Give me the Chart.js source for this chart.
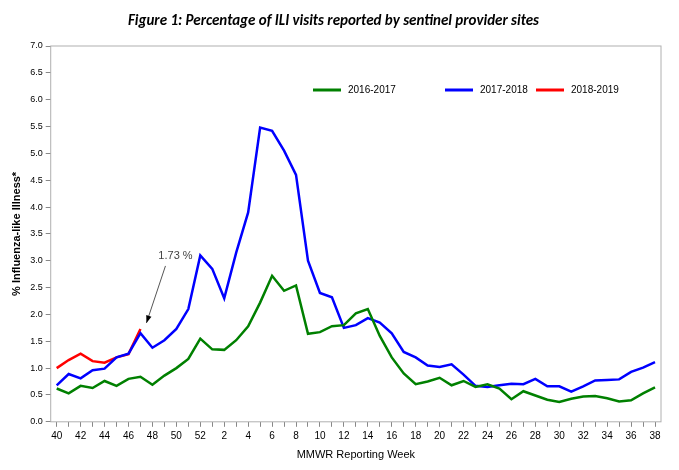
<!DOCTYPE html>
<html>
<head>
<meta charset="utf-8">
<script src="https://cdn.jsdelivr.net/npm/chart.js@4/dist/chart.umd.min.js"></script>
<style>
  body { margin: 0; background: #fff; }
  #wrap { width: 679px; height: 470px; position: relative; }
</style>
</head>
<body>
<div id="wrap"><canvas id="chart"></canvas></div>
<script>
// Semanas MMWR (40..52, 1..38)
const weeks = [40,41,42,43,44,45,46,47,48,49,50,51,52,1,2,3,4,5,6,7,8,9,10,11,12,13,14,15,16,17,18,19,20,21,22,23,24,25,26,27,28,29,30,31,32,33,34,35,36,37,38];

const season1617 = [0.62,0.53,0.67,0.63,0.76,0.67,0.80,0.84,0.69,0.86,1.00,1.17,1.55,1.35,1.34,1.52,1.78,2.22,2.72,2.44,2.54,1.64,1.67,1.78,1.80,2.02,2.10,1.60,1.20,0.90,0.70,0.75,0.82,0.68,0.76,0.65,0.70,0.62,0.42,0.57,0.49,0.41,0.37,0.43,0.47,0.48,0.44,0.38,0.40,0.53,0.64];
const season1718 = [0.68,0.89,0.81,0.96,0.99,1.20,1.27,1.65,1.38,1.52,1.73,2.10,3.10,2.85,2.30,3.15,3.90,5.48,5.42,5.05,4.60,3.00,2.40,2.32,1.75,1.80,1.93,1.85,1.65,1.30,1.20,1.05,1.02,1.07,0.88,0.67,0.65,0.68,0.71,0.70,0.80,0.66,0.66,0.56,0.66,0.77,0.78,0.79,0.93,1.01,1.11];
const season1819 = [1.00,1.15,1.27,1.13,1.10,1.20,1.26,1.73];

const seriesNames = ["2016-2017", "2017-2018", "2018-2019"];
const seriesColors = ["#008000", "#0000ff", "#ff0000"];

// Leyenda dentro del área del gráfico y anotación de la flecha
const extras = {
  id: "extras",
  afterDraw(chart) {
    const ctx = chart.ctx;
    const { left, top, right, bottom } = chart.chartArea;
    // marco
    ctx.save();
    ctx.strokeStyle = "#b0b0b0";
    ctx.lineWidth = 1;
    ctx.strokeRect(left, top, right - left, bottom - top);
    // leyenda
    const lx = [313, 445, 536];
    ctx.font = "10px Arial, 'Liberation Sans', sans-serif";
    ctx.textBaseline = "middle";
    seriesNames.forEach((n, i) => {
      ctx.strokeStyle = seriesColors[i];
      ctx.lineWidth = 3;
      ctx.beginPath();
      ctx.moveTo(lx[i], 90);
      ctx.lineTo(lx[i] + 28, 90);
      ctx.stroke();
      ctx.fillStyle = "#000";
      ctx.fillText(n, lx[i] + 35, 90);
    });
    // anotación 1.73 %
    const xs = chart.scales.x, ys = chart.scales.y;
    const px = xs.getPixelForValue(7), py = ys.getPixelForValue(1.73);
    const x0 = px + 25, y0 = py - 63;
    const x1 = px + 6, y1 = py - 6;
    ctx.strokeStyle = "#555";
    ctx.lineWidth = 1;
    ctx.beginPath();
    ctx.moveTo(x0, y0);
    ctx.lineTo(x1, y1);
    ctx.stroke();
    const ang = Math.atan2(y1 - y0, x1 - x0);
    ctx.fillStyle = "#000";
    ctx.beginPath();
    ctx.moveTo(x1, y1);
    ctx.lineTo(x1 - 8 * Math.cos(ang - 0.35), y1 - 8 * Math.sin(ang - 0.35));
    ctx.lineTo(x1 - 8 * Math.cos(ang + 0.35), y1 - 8 * Math.sin(ang + 0.35));
    ctx.closePath();
    ctx.fill();
    ctx.fillStyle = "#444";
    ctx.font = "11px Arial, 'Liberation Sans', sans-serif";
    ctx.textAlign = "center";
    ctx.fillText("1.73 %", x0 + 10, y0 - 10);
    ctx.restore();
  }
};

const mk = (label, data, color) => ({
  label: label, data: data, borderColor: color, borderWidth: 2.5,
  pointRadius: 0, tension: 0, fill: false
});

new Chart(document.getElementById("chart"), {
  type: "line",
  plugins: [extras],
  data: {
    labels: weeks,
    datasets: [
      mk(seriesNames[0], season1617, seriesColors[0]),
      mk(seriesNames[1], season1718, seriesColors[1]),
      mk(seriesNames[2], season1819, seriesColors[2]),
    ],
  },
  options: {
    responsive: true,
    maintainAspectRatio: false,
    animation: false,
    layout: { padding: { top: 8, right: 18, left: 6, bottom: 4 } },
    plugins: {
      legend: { display: false },
      tooltip: { enabled: false },
      title: {
        display: true,
        text: "Figure 1: Percentage of ILI visits reported by sentinel provider sites",
        font: { family: "Calibri, Carlito, 'Liberation Sans', sans-serif", size: 15, style: "italic" },
        color: "#000",
        padding: { top: 4, bottom: 16 }
      },
    },
    scales: {
      x: {
        offset: true,
        grid: { drawOnChartArea: false, drawTicks: true, tickLength: 5, color: "#888" },
        border: { display: false },
        ticks: {
          autoSkip: false, maxRotation: 0, color: "#000",
          font: { size: 10, family: "Arial, 'Liberation Sans', sans-serif" },
          callback: (v, i) => (i % 2 === 0 ? weeks[i] : "")
        },
        title: { display: true, text: "MMWR Reporting Week", color: "#000",
          font: { size: 11, family: "Arial, 'Liberation Sans', sans-serif" } }
      },
      y: {
        min: 0, max: 7,
        grid: { drawOnChartArea: false, drawTicks: true, tickLength: 5, color: "#888" },
        border: { display: false },
        ticks: {
          stepSize: 0.5, color: "#000",
          font: { size: 9, family: "Arial, 'Liberation Sans', sans-serif" },
          callback: v => v.toFixed(1)
        },
        title: { display: true, text: "% Influenza-like Illness*", color: "#000",
          font: { size: 11, weight: "bold", family: "Arial, 'Liberation Sans', sans-serif" } }
      }
    }
  }
});
</script>
</body>
</html>
